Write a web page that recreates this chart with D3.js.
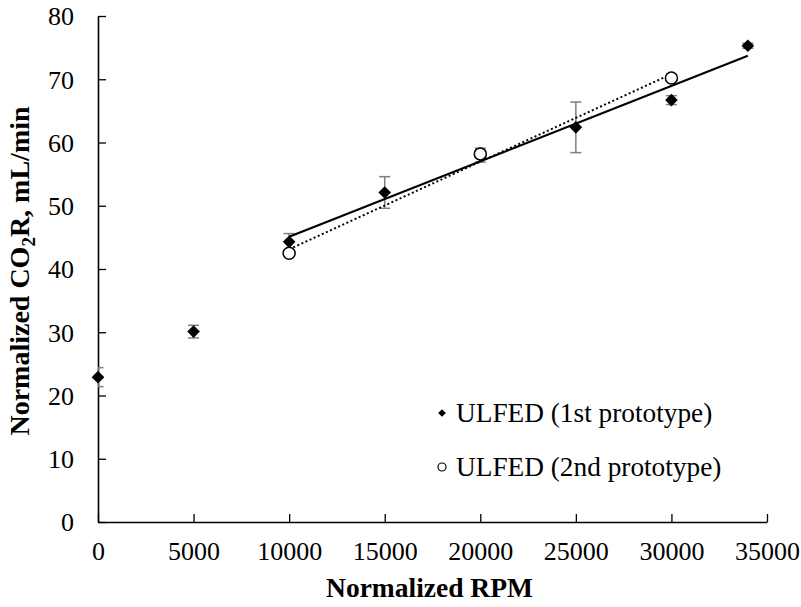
<!DOCTYPE html>
<html>
<head>
<meta charset="utf-8">
<script src="https://cdn.jsdelivr.net/npm/d3@7"></script>
<style>
  html, body { margin: 0; padding: 0; background: #fff; }
  svg { display: block; font-family: "Liberation Serif", "Times New Roman", serif; }
</style>
</head>
<body>
<svg id="chart" width="801" height="607"></svg>
<script>
// Prototype 1: speed, CO2 removal rate and error half-width
const rpm1 = [0, 5000, 10000, 15000, 20000, 25000, 30000, 34000];
const co2r1 = [22.9, 30.1, 44.3, 52.1, 58.0, 62.4, 66.7, 75.3];
const err1 = [1.5, 1.0, 1.3, 2.5, 1.1, 4.0, 0.7, 0.4];

// Prototype 2
const rpm2 = [10000, 20000, 30000];
const co2r2 = [42.5, 58.2, 70.2];

const xTicks = [0, 5000, 10000, 15000, 20000, 25000, 30000, 35000];
const yTicks = [0, 10, 20, 30, 40, 50, 60, 70, 80];
const seriesNames = ["ULFED (1st prototype)", "ULFED (2nd prototype)"];

const svg = d3.select("#chart");
const plotLeft = 98, plotRight = 767, plotTop = 16, plotBottom = 522;

const x = d3.scaleLinear().domain([0, 35000]).range([plotLeft, plotRight]);
const y = d3.scaleLinear().domain([0, 80]).range([plotBottom, plotTop]);

// least-squares line over a subset of points
function fit(xs, ys) {
  const n = xs.length;
  const mx = d3.mean(xs), my = d3.mean(ys);
  let sxy = 0, sxx = 0;
  for (let i = 0; i < n; i++) { sxy += (xs[i] - mx) * (ys[i] - my); sxx += (xs[i] - mx) ** 2; }
  const b = sxy / sxx, a = my - b * mx;
  const x0 = d3.min(xs), x1 = d3.max(xs);
  return [[x0, a + b * x0], [x1, a + b * x1]];
}

// axes
const yAxis = d3.axisLeft(y).tickValues(yTicks).tickFormat(d3.format("d"))
  .tickSize(-8).tickPadding(24).tickSizeOuter(0);
const gy = svg.append("g").attr("transform", `translate(${plotLeft},0)`).call(yAxis);
const xAxis = d3.axisBottom(x).tickValues(xTicks).tickFormat(d3.format("d"))
  .tickSize(-8).tickPadding(20).tickSizeOuter(0);
const gx = svg.append("g").attr("transform", `translate(0,${plotBottom})`).call(xAxis);
[gy, gx].forEach(g => {
  g.selectAll("path.domain").attr("stroke", "#000").attr("stroke-width", 1.6);
  g.selectAll(".tick line").attr("stroke", "#000").attr("stroke-width", 1.3);
  g.selectAll(".tick text").attr("fill", "#000").style("font-size", "26px")
    .style("font-family", "'Liberation Serif', 'Times New Roman', serif");
});
gy.selectAll(".tick text").attr("dy", "0.34em");
gx.selectAll(".tick text").attr("dy", "0.71em");

// axis titles
svg.append("text").attr("x", (plotLeft + plotRight) / 2 - 3).attr("y", 597)
  .attr("text-anchor", "middle").attr("font-weight", "bold").style("font-size", "27.5px")
  .text("Normalized RPM");
const yt = svg.append("text").attr("transform", `translate(29,${(plotTop + plotBottom) / 2 + 2}) rotate(-90)`)
  .attr("text-anchor", "middle").attr("font-weight", "bold").style("font-size", "28px");
yt.append("tspan").text("Normalized CO");
yt.append("tspan").attr("dy", 6).style("font-size", "19px").text("2");
yt.append("tspan").attr("dy", -6).text("R, mL/min");

// error bars, clipped to the plotting region
svg.append("clipPath").attr("id", "plotclip").append("rect")
  .attr("x", plotLeft).attr("y", 0).attr("width", plotRight - plotLeft + 20).attr("height", plotBottom);
const eb = svg.append("g").attr("clip-path", "url(#plotclip)")
  .attr("stroke", "#7f7f7f").attr("stroke-width", 1.5);
rpm1.forEach((r, i) => {
  const cx = x(r), y0 = y(co2r1[i] - err1[i]), y1 = y(co2r1[i] + err1[i]);
  eb.append("line").attr("x1", cx).attr("x2", cx).attr("y1", y0).attr("y2", y1);
  eb.append("line").attr("x1", cx - 5.5).attr("x2", cx + 5.5).attr("y1", y0).attr("y2", y0);
  eb.append("line").attr("x1", cx - 5.5).attr("x2", cx + 5.5).attr("y1", y1).attr("y2", y1);
});

// trend lines
const line = d3.line().x(d => x(d[0])).y(d => y(d[1]));
const t1 = fit(rpm1.slice(2), co2r1.slice(2));
svg.append("path").attr("d", line(t1)).attr("fill", "none").attr("stroke", "#000").attr("stroke-width", 2.2);
const t2 = fit(rpm2, co2r2);
svg.append("path").attr("d", line(t2)).attr("fill", "none").attr("stroke", "#000")
  .attr("stroke-width", 2).attr("stroke-dasharray", "2,2.5");

// markers: squares turned 45° give square diamonds
const diamond = d3.symbol().type(d3.symbolSquare).size(80);
svg.append("g").selectAll("path").data(rpm1).join("path")
  .attr("d", diamond).attr("fill", "#000")
  .attr("transform", (d, i) => `translate(${x(d)},${y(co2r1[i])}) rotate(45)`);
svg.append("g").selectAll("circle").data(rpm2).join("circle")
  .attr("cx", d => x(d)).attr("cy", (d, i) => y(co2r2[i])).attr("r", 6)
  .attr("fill", "#fff").attr("stroke", "#000").attr("stroke-width", 1.5);

// legend
const lg = svg.append("g");
lg.append("path").attr("d", d3.symbol().type(d3.symbolSquare).size(30)).attr("fill", "#000")
  .attr("transform", "translate(442,413) rotate(45)");
lg.append("circle").attr("cx", 442).attr("cy", 467).attr("r", 4)
  .attr("fill", "#fff").attr("stroke", "#000").attr("stroke-width", 1.2);
lg.selectAll("text").data(seriesNames).join("text")
  .attr("x", 456).attr("y", (d, i) => 422 + i * 54)
  .style("font-size", "27.3px").attr("fill", "#000").text(d => d);
</script>
</body>
</html>
